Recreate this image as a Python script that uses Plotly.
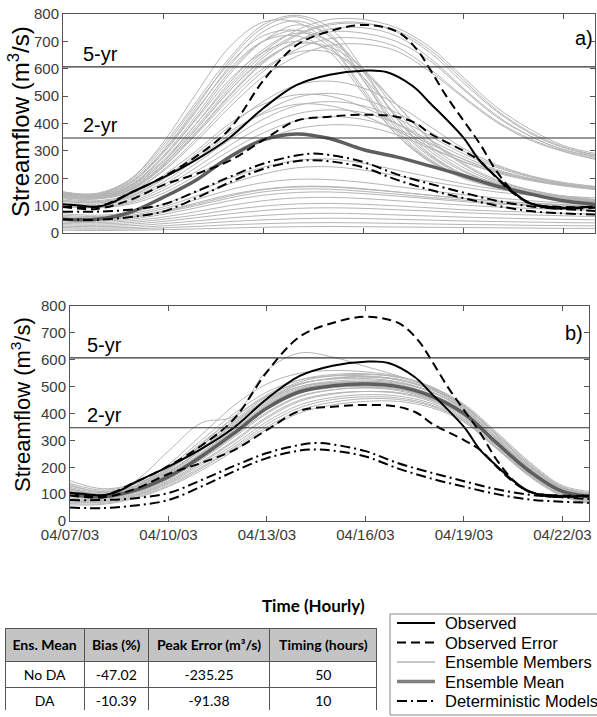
import plotly.graph_objects as go
import pandas as pd

# ---------------- data (days after 2003-04-07 00:00) ----------------
days = list(range(17))

obs_days = [0, 0.5, 1, 1.5, 2, 3, 4, 5, 6, 7, 8, 9, 9.7, 10.5, 11, 12, 12.5, 13, 13.5, 14, 14.5, 15, 15.9]
observed = [105, 100, 96, 112, 145, 202, 268, 348, 455, 540, 578, 593, 588, 536, 476, 350, 264, 205, 150, 110, 92, 90, 97]

err_up_days = [0, 1, 2, 3, 4, 5, 6, 7, 8, 9, 10, 10.6, 11, 11.5, 12, 12.5, 13, 13.5, 14, 15, 16]
obs_err_upper = [100, 95, 145, 205, 280, 380, 555, 686, 737, 760, 737, 673, 600, 500, 413, 327, 227, 152, 108, 95, 95]

err_lo_days = [0, 1, 2, 3, 4, 5, 6, 7, 8, 9, 10, 10.6, 11, 12, 12.5, 13, 13.5, 14, 15, 16]
obs_err_lower = [95, 88, 120, 175, 216, 264, 339, 410, 425, 432, 425, 400, 364, 301, 264, 202, 146, 109, 92, 92]

det_days = [0, 1, 2, 3, 4, 5, 6, 7, 7.5, 8, 9, 10, 11, 12, 13, 14, 15, 16]
det_model_1 = [78, 78, 85, 104, 152, 205, 253, 283, 290, 285, 260, 215, 180, 148, 118, 98, 88, 80]
det_model_2 = [50, 48, 58, 78, 128, 185, 234, 262, 266, 262, 240, 195, 158, 128, 100, 80, 72, 67]

ens_mean_a = [50, 50, 75, 130, 194, 278, 340, 362, 345, 305, 278, 245, 210, 172, 143, 118, 105]
ens_mean_b = [100, 90, 115, 165, 240, 327, 420, 481, 503, 510, 500, 465, 400, 290, 185, 110, 90]

# panel a (No DA) ensemble members, values at days 0..16
members_a = [
    [150, 140, 185, 300, 460, 630, 750, 790, 730, 560, 380, 270, 205, 170, 145, 128, 116],
    [145, 138, 180, 290, 445, 610, 735, 775, 720, 570, 400, 285, 215, 175, 148, 130, 118],
    [140, 132, 170, 275, 420, 580, 700, 760, 720, 590, 420, 300, 225, 180, 150, 132, 120],
    [148, 142, 190, 310, 470, 620, 720, 740, 680, 520, 360, 260, 200, 165, 140, 125, 112],
    [138, 130, 165, 260, 400, 550, 670, 730, 700, 600, 450, 320, 240, 185, 155, 135, 122],
    [150, 145, 195, 320, 480, 640, 760, 795, 750, 600, 420, 290, 215, 172, 146, 130, 118],
    [142, 135, 175, 280, 430, 590, 700, 740, 700, 560, 390, 280, 210, 170, 145, 128, 115],
    [135, 128, 160, 250, 380, 520, 630, 690, 680, 600, 470, 340, 250, 190, 158, 135, 120],
    [146, 139, 182, 295, 450, 600, 700, 720, 660, 510, 360, 265, 205, 168, 143, 127, 115],
    [140, 134, 172, 275, 415, 560, 660, 700, 670, 570, 430, 310, 230, 180, 150, 132, 118],
    [130, 125, 155, 240, 360, 490, 600, 660, 660, 590, 470, 345, 255, 195, 158, 133, 120],
    [150, 142, 195, 330, 510, 680, 770, 770, 690, 530, 370, 265, 205, 165, 140, 125, 114],
    [140, 135, 160, 250, 380, 520, 640, 720, 760, 765, 740, 670, 560, 450, 370, 315, 285],
    [135, 130, 155, 240, 365, 500, 620, 700, 745, 750, 720, 640, 530, 430, 355, 305, 275],
    [145, 138, 170, 265, 400, 540, 660, 740, 780, 780, 750, 680, 570, 460, 380, 320, 290],
    [130, 126, 150, 230, 345, 475, 590, 670, 710, 710, 680, 600, 500, 410, 345, 300, 270],
    [138, 132, 158, 245, 370, 505, 625, 700, 735, 730, 700, 630, 525, 425, 355, 305, 280],
    [128, 124, 148, 225, 335, 460, 570, 645, 685, 690, 665, 590, 495, 405, 340, 298, 268],
    [142, 136, 165, 258, 388, 530, 650, 725, 765, 768, 735, 660, 550, 445, 365, 312, 282],
    [120, 115, 135, 200, 290, 390, 480, 540, 555, 530, 470, 390, 310, 250, 210, 185, 170],
    [115, 110, 128, 185, 270, 360, 440, 495, 510, 490, 440, 370, 300, 245, 208, 182, 168],
    [110, 105, 122, 175, 255, 340, 415, 465, 480, 465, 420, 355, 290, 240, 205, 180, 165],
    [125, 118, 140, 210, 300, 400, 470, 505, 500, 460, 400, 330, 270, 225, 195, 175, 160],
    [105, 100, 115, 165, 240, 320, 390, 435, 450, 440, 400, 340, 280, 232, 200, 178, 163],
    [100, 96, 110, 155, 225, 300, 365, 410, 425, 415, 380, 325, 270, 228, 198, 176, 162],
    [118, 112, 132, 195, 280, 370, 435, 470, 465, 430, 375, 315, 260, 220, 192, 172, 158],
    [95, 92, 105, 145, 210, 280, 340, 380, 395, 390, 360, 310, 262, 222, 195, 175, 160],
    [70, 65, 75, 105, 150, 200, 240, 265, 270, 255, 230, 205, 180, 160, 145, 135, 128],
    [65, 60, 70, 95, 135, 180, 215, 238, 242, 230, 210, 188, 168, 150, 138, 128, 122],
    [55, 52, 60, 80, 110, 140, 160, 170, 170, 162, 150, 138, 126, 116, 108, 102, 98],
    [50, 48, 55, 75, 100, 128, 150, 160, 160, 152, 142, 130, 120, 110, 103, 98, 94],
    [45, 43, 50, 68, 92, 118, 138, 148, 150, 144, 135, 125, 115, 106, 100, 95, 92],
    [60, 56, 64, 88, 122, 158, 184, 196, 195, 185, 170, 155, 140, 128, 118, 110, 105],
    [40, 38, 44, 58, 78, 100, 118, 128, 130, 126, 118, 110, 102, 95, 90, 86, 83],
    [52, 50, 57, 78, 105, 135, 158, 168, 168, 160, 150, 138, 127, 117, 110, 104, 100],
    [30, 28, 32, 42, 56, 70, 82, 90, 92, 90, 85, 80, 74, 70, 66, 63, 60],
    [25, 23, 26, 34, 44, 55, 64, 70, 72, 70, 66, 62, 58, 55, 52, 50, 48],
    [20, 18, 20, 26, 34, 42, 48, 52, 54, 53, 50, 47, 44, 42, 40, 38, 37],
    [15, 14, 15, 19, 24, 30, 34, 37, 38, 37, 35, 33, 31, 30, 28, 27, 26],
    [35, 33, 38, 50, 66, 84, 98, 106, 108, 105, 99, 92, 85, 80, 76, 72, 69],
    [10, 9, 10, 12, 15, 18, 21, 23, 24, 23, 22, 21, 20, 19, 18, 17, 17],
]

# panel b (DA) ensemble members, values at days 0..16
members_b = [
    [150, 120, 140, 195, 280, 370, 455, 510, 530, 535, 525, 490, 425, 320, 210, 125, 100],
    [130, 110, 130, 185, 265, 355, 445, 500, 520, 525, 515, 480, 415, 305, 195, 118, 95],
    [120, 100, 122, 175, 255, 345, 435, 490, 510, 515, 505, 470, 405, 295, 190, 112, 90],
    [110, 95, 118, 170, 250, 335, 425, 480, 498, 502, 492, 458, 395, 288, 182, 108, 85],
    [95, 88, 110, 160, 232, 318, 405, 465, 488, 495, 485, 452, 390, 282, 178, 105, 82],
    [85, 80, 102, 150, 220, 300, 388, 450, 475, 482, 475, 445, 385, 278, 175, 102, 78],
    [75, 72, 95, 142, 208, 285, 370, 432, 460, 470, 465, 438, 380, 275, 172, 98, 72],
    [65, 65, 88, 132, 195, 270, 350, 412, 442, 455, 452, 428, 372, 270, 168, 95, 65],
    [140, 115, 138, 195, 290, 385, 470, 525, 545, 548, 535, 498, 430, 325, 215, 128, 102],
    [125, 105, 128, 182, 268, 360, 450, 508, 532, 538, 528, 492, 425, 318, 205, 122, 98],
    [105, 92, 114, 168, 248, 338, 430, 490, 512, 520, 512, 480, 418, 310, 198, 115, 88],
    [90, 84, 106, 155, 228, 312, 400, 462, 488, 496, 490, 458, 398, 292, 185, 108, 80],
    [80, 76, 98, 146, 215, 295, 382, 445, 472, 482, 478, 450, 392, 288, 180, 104, 75],
    [100, 90, 112, 165, 250, 340, 430, 485, 505, 508, 498, 462, 398, 290, 186, 110, 88],
    [115, 98, 120, 178, 262, 352, 440, 495, 515, 518, 508, 472, 408, 298, 192, 114, 92],
    [95, 86, 108, 158, 238, 325, 415, 475, 496, 500, 490, 455, 392, 285, 180, 106, 84],
    [135, 108, 132, 190, 280, 375, 462, 518, 540, 545, 535, 500, 435, 330, 220, 132, 108],
    [70, 70, 92, 138, 200, 276, 360, 422, 452, 462, 458, 432, 376, 272, 170, 96, 68],
    [60, 62, 85, 128, 188, 262, 342, 402, 432, 445, 445, 422, 368, 268, 165, 92, 60],
    [110, 95, 125, 200, 300, 400, 480, 525, 540, 540, 525, 488, 420, 312, 200, 118, 92],
    [100, 90, 120, 190, 285, 385, 465, 512, 528, 530, 518, 482, 415, 305, 195, 114, 88],
    [120, 100, 130, 210, 320, 430, 510, 550, 560, 555, 538, 500, 430, 320, 208, 124, 96],
    [105, 92, 118, 180, 270, 365, 450, 500, 515, 515, 505, 472, 410, 302, 192, 112, 86],
    [110, 95, 150, 260, 365, 390, 560, 625, 610, 575, 540, 495, 428, 318, 205, 120, 95],
]

five_yr = 607
two_yr = 347

tick_days = [0, 3, 6, 9, 12, 15]
tick_labels = ["04/07/03", "04/10/03", "04/13/03", "04/16/03", "04/19/03", "04/22/03"]

NB = "\u00a0"
table_header = ["<b>Ens." + NB + "Mean</b>", "<b>Bias" + NB + "(%)</b>",
                "<b>Peak" + NB + "Error" + NB + "(m³/s)</b>", "<b>Timing" + NB + "(hours)</b>"]
table_rows = [["No" + NB + "DA", "DA"], ["-47.02", "-10.39"], ["-235.25", "-91.38"], ["50", "10"]]

legend_labels = ["Observed", "Observed Error", "Ensemble Members", "Ensemble Mean", "Deterministic Models"]

# ---------------- figure ----------------
base = pd.Timestamp("2003-04-07")


def to_dates(ds):
    return [base + pd.Timedelta(days=d) for d in ds]


W, H = 597, 717
fig = go.Figure()

MEMBER = dict(color="#b5b5b5", width=1)
MEAN = dict(color="#5e5e5e", width=3.5)
OBS = dict(color="black", width=2)
ERR = dict(color="black", width=2, dash="9px,5px")
DET = dict(color="black", width=2, dash="10px,4px,2px,4px")
legend_styles = [OBS, ERR, dict(color="#b3b3b3", width=1.3), dict(color="#808080", width=3.5), DET]


def add_panel(xa, ya, members, mean):
    for m in members:
        fig.add_trace(go.Scatter(x=to_dates(days), y=m, mode="lines", line=MEMBER, line_shape="spline",
                                 xaxis=xa, yaxis=ya, name="Ensemble Members"))
    fig.add_trace(go.Scatter(x=to_dates(days), y=mean, mode="lines", line=MEAN, line_shape="spline",
                             xaxis=xa, yaxis=ya, name="Ensemble Mean"))
    for dm in (det_model_1, det_model_2):
        fig.add_trace(go.Scatter(x=to_dates(det_days), y=dm, mode="lines", line=DET, line_shape="spline",
                                 xaxis=xa, yaxis=ya, name="Deterministic Models"))
    fig.add_trace(go.Scatter(x=to_dates(err_up_days), y=obs_err_upper, mode="lines", line=ERR,
                             line_shape="spline", xaxis=xa, yaxis=ya, name="Observed Error"))
    fig.add_trace(go.Scatter(x=to_dates(err_lo_days), y=obs_err_lower, mode="lines", line=ERR,
                             line_shape="spline", xaxis=xa, yaxis=ya, name="Observed Error"))
    fig.add_trace(go.Scatter(x=to_dates(obs_days), y=observed, mode="lines", line=OBS, line_shape="spline",
                             xaxis=xa, yaxis=ya, name="Observed"))


add_panel("x", "y", members_a, ens_mean_a)
add_panel("x2", "y2", members_b, ens_mean_b)

FONT = "Liberation Sans, Arial, sans-serif"
axis_common = dict(showline=True, linecolor="#555", linewidth=1, mirror="ticks", ticks="inside",
                   ticklen=5, tickcolor="#555", showgrid=False, zeroline=False, automargin=False,
                   tickfont=dict(family=FONT, size=15, color="#3a3a3a"))

tick_dates = to_dates(tick_days)
fig.update_layout(
    width=W, height=H, margin=dict(l=0, r=0, t=0, b=0, autoexpand=False),
    paper_bgcolor="white", plot_bgcolor="white", showlegend=False,
    xaxis=dict(domain=[63 / W, 595 / W], anchor="y", type="date",
               range=[base, base + pd.Timedelta(days=15.96)],
               tickvals=tick_dates, ticktext=tick_labels, showticklabels=False, **axis_common),
    yaxis=dict(domain=[1 - 233 / H, 1 - 14 / H], anchor="x", range=[0, 800], dtick=100, **axis_common),
    xaxis2=dict(domain=[70 / W, 589 / W], anchor="y2", type="date",
                range=[base, base + pd.Timedelta(days=15.81)],
                tickvals=tick_dates, ticktext=tick_labels, **axis_common),
    yaxis2=dict(domain=[1 - 521 / H, 1 - 306 / H], anchor="x2", range=[0, 800], dtick=100, **axis_common),
)

shapes = []
for xr, yr in [("x", "y"), ("x2", "y2")]:
    for v in [five_yr, two_yr]:
        shapes.append(dict(type="line", xref=f"{xr} domain", yref=yr, x0=0, x1=1, y0=v, y1=v,
                           line=dict(color="#333", width=1.2)))

# panel texts
ann = []
for xr, yr, lab, lx, ly, dx in [("x", "y", "a)", 15.62, 712, 1.11),
                                ("x2", "y2", "b)", 15.36, 700, 1.04)]:
    for txt, v in [("5-yr", five_yr), ("2-yr", two_yr)]:
        ann.append(dict(x=base + pd.Timedelta(days=dx), y=v + 48, xref=xr, yref=yr, text=txt,
                        xanchor="center", yanchor="middle", showarrow=False,
                        font=dict(family=FONT, size=20, color="black")))
    ann.append(dict(x=base + pd.Timedelta(days=lx), y=ly, xref=xr, yref=yr, text=lab,
                    xanchor="center", yanchor="middle", showarrow=False,
                    font=dict(family=FONT, size=20, color="black")))

ann.append(dict(x=19 / W, y=1 - 122 / H, xref="paper", yref="paper", text="Streamflow (m<sup>3</sup>/s)",
                textangle=-90, xanchor="center", yanchor="middle", showarrow=False,
                font=dict(family=FONT, size=24, color="black")))
ann.append(dict(x=21 / W, y=1 - 405 / H, xref="paper", yref="paper", text="Streamflow (m<sup>3</sup>/s)",
                textangle=-90, xanchor="center", yanchor="middle", showarrow=False,
                font=dict(family=FONT, size=22, color="black")))
ann.append(dict(x=313 / W, y=1 - 605 / H, xref="paper", yref="paper", text="<b>Time (Hourly)</b>",
                xanchor="center", yanchor="middle", showarrow=False,
                font=dict(family="Lato, sans-serif", size=17, color="black")))

# legend box (drawn by hand to match the compact original layout)
shapes.append(dict(type="rect", xref="paper", yref="paper", x0=390 / W, x1=640 / W,
                   y0=1 - 715 / H, y1=1 - 614 / H, line=dict(color="#888", width=1), fillcolor="white",
                   layer="above"))
for i, (lab, st) in enumerate(zip(legend_labels, legend_styles)):
    yc = 1 - (623 + 19.5 * i) / H
    shapes.append(dict(type="line", xref="paper", yref="paper", x0=397 / W, x1=435 / W, y0=yc, y1=yc,
                       line=st, layer="above"))
    ann.append(dict(x=443 / W, y=yc, xref="paper", yref="paper", text=lab, xanchor="left",
                    yanchor="middle", showarrow=False, font=dict(family=FONT, size=16.5, color="black")))

fig.update_layout(annotations=ann, shapes=shapes)

fig.add_trace(go.Table(
    domain=dict(x=[5 / W, 377 / W], y=[1 - 710 / H, 1 - 628 / H]),
    columnwidth=[79, 64, 121, 107],
    header=dict(values=table_header, fill_color="#c4c4c4", line_color="#555",
                font=dict(family="Lato, sans-serif", size=14, color="black"), height=24, align="center"),
    cells=dict(values=table_rows, fill_color="white", line_color="#555",
               font=dict(family="Lato, sans-serif", size=14, color="black"), height=26, align="center"),
))

fig.write_html("out.html")
